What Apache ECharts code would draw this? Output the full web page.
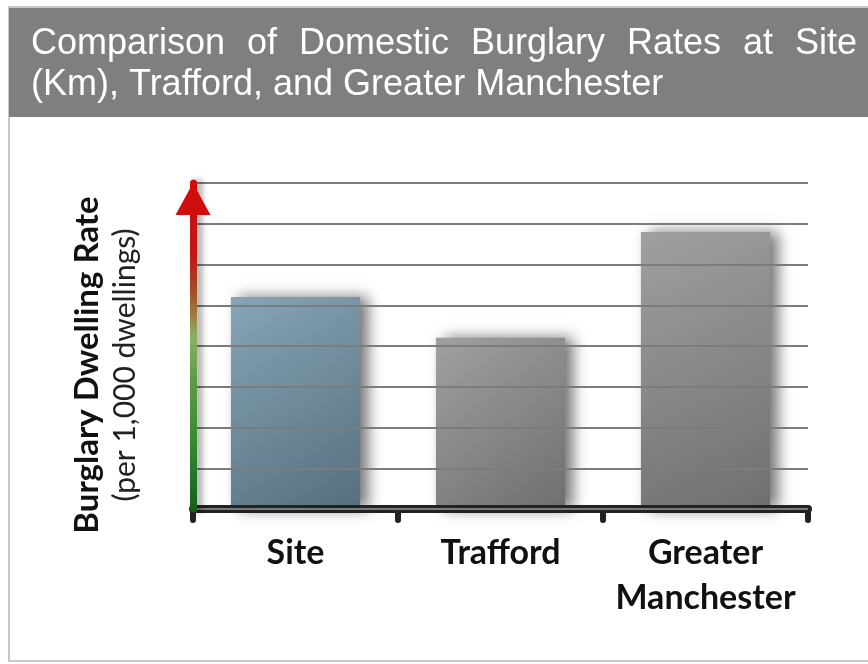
<!DOCTYPE html>
<html>
<head>
<meta charset="utf-8">
<script src="https://cdn.jsdelivr.net/npm/echarts@6/dist/echarts.min.js"></script>
<style>
html,body{margin:0;padding:0;background:#fff;}
#chart{width:868px;height:664px;}
</style>
</head>
<body>
<div id="chart"></div>
<script>
// ---- data ----
const categories = ['Site', 'Trafford', 'Greater\nManchester'];
const rates = [5.2, 4.2, 6.8];
const titleLines = ['Comparison of Domestic Burglary Rates at Site', '(Km), Trafford, and Greater Manchester'];
const yName = 'Burglary Dwelling Rate';
const ySubName = '(per 1,000 dwellings)';
const yMin = 0, yMax = 8, yInterval = 1;

// ---- styles ----
const barColors = [
  ['#86a5b8', '#566f7e'],
  ['#a0a0a0', '#6f6f6f'],
  ['#a0a0a0', '#6f6f6f']
];

const chart = echarts.init(document.getElementById('chart'), null, {renderer: 'canvas'});

const gridLeft = 193, gridTop = 183, gridRight = 60, gridBottom = 155;
const axisBottomY = 664 - gridBottom;

// justify first title line across the band
const titleFont = '36px "Liberation Sans", Arial, sans-serif';
const cv = document.createElement('canvas').getContext('2d');
cv.font = titleFont;
const titleGraphics = [];
(function () {
  const x0 = 31, x1 = 857;
  const words = titleLines[0].split(' ');
  const widths = words.map(w => cv.measureText(w).width);
  const total = widths.reduce((a, b) => a + b, 0);
  const gap = (x1 - x0 - total) / (words.length - 1);
  let x = x0;
  words.forEach((w, i) => {
    titleGraphics.push({type: 'text', x: x, y: 62, style: {text: w, font: titleFont, fill: '#fff', verticalAlign: 'bottom'}, z: 10});
    x += widths[i] + gap;
  });
  titleGraphics.push({type: 'text', x: x0, y: 103, style: {text: titleLines[1], font: titleFont, fill: '#fff', verticalAlign: 'bottom'}, z: 10});
})();

const option = {
  animation: false,
  backgroundColor: '#fff',
  grid: {left: gridLeft, top: gridTop, right: gridRight, bottom: gridBottom, containLabel: false},
  graphic: [
    {type: 'rect', shape: {x: 9, y: 7, width: 870, height: 654}, style: {fill: 'none', stroke: '#c8c8c8', lineWidth: 2}, z: 0},
    {type: 'rect', shape: {x: 9, y: 8, width: 870, height: 109}, style: {fill: '#7f7f7f'}, z: 1}
  ].concat(titleGraphics),
  xAxis: {
    type: 'category',
    data: categories,
    boundaryGap: true,
    axisLine: {show: true, lineStyle: {color: '#222', width: 8, cap: 'round'}},
    axisTick: {show: true, interval: 0, length: 11, lineStyle: {color: '#222', width: 6, cap: 'round'}},
    axisLabel: {
      interval: 0, margin: 22,
      fontFamily: 'Lato, "Open Sans", sans-serif', fontWeight: 'bold', fontSize: 34, color: '#111',
      lineHeight: 45
    },
    splitLine: {show: false},
    z: 3
  },
  yAxis: {
    type: 'value',
    min: yMin, max: yMax, interval: yInterval,
    axisLabel: {show: false},
    axisTick: {show: false},
    axisLine: {
      show: true,
      symbol: ['none', 'triangle'],
      symbolSize: [35, 32],
      symbolOffset: [0, -16],
      lineStyle: {
        width: 7,
        color: {
          type: 'linear', x: 0, y: gridTop, x2: 0, y2: axisBottomY, global: true,
          colorStops: [
            {offset: 0, color: '#d00c0c'},
            {offset: 0.22, color: '#c01818'},
            {offset: 0.33, color: '#a64a28'},
            {offset: 0.4, color: '#a07a3a'},
            {offset: 0.47, color: '#8cb065'},
            {offset: 0.6, color: '#5e9c48'},
            {offset: 0.8, color: '#358a30'},
            {offset: 1, color: '#16601a'}
          ]
        },
        shadowColor: 'rgba(0,0,0,0.35)', shadowBlur: 6, shadowOffsetX: 5
      }
    },
    splitLine: {show: true, lineStyle: {color: '#7c7c7c', width: 2}},
    name: '{a|' + yName + '}\n{b|' + ySubName + '}',
    nameLocation: 'middle',
    nameRotate: 90,
    nameGap: 49,
    nameTextStyle: {
      padding: [0, 38, 0, 0],
      rich: {
        a: {fontFamily: 'Lato, "Open Sans", sans-serif', fontWeight: 'bold', fontSize: 33, color: '#111', lineHeight: 38},
        b: {fontFamily: 'Lato, "Open Sans", sans-serif', fontSize: 30, color: '#222', lineHeight: 38}
      }
    },
    z: 4
  },
  series: [{
    type: 'bar',
    data: rates,
    barWidth: '63%',
    itemStyle: {
      color: function (p) {
        const c = barColors[p.dataIndex];
        return new echarts.graphic.LinearGradient(0, 0, 1, 1, [{offset: 0, color: c[0]}, {offset: 1, color: c[1]}]);
      },
      shadowColor: 'rgba(0,0,0,0.55)', shadowBlur: 14, shadowOffsetX: 8, shadowOffsetY: 0
    },
    z: 2
  }]
};
chart.setOption(option);
</script>
</body>
</html>
